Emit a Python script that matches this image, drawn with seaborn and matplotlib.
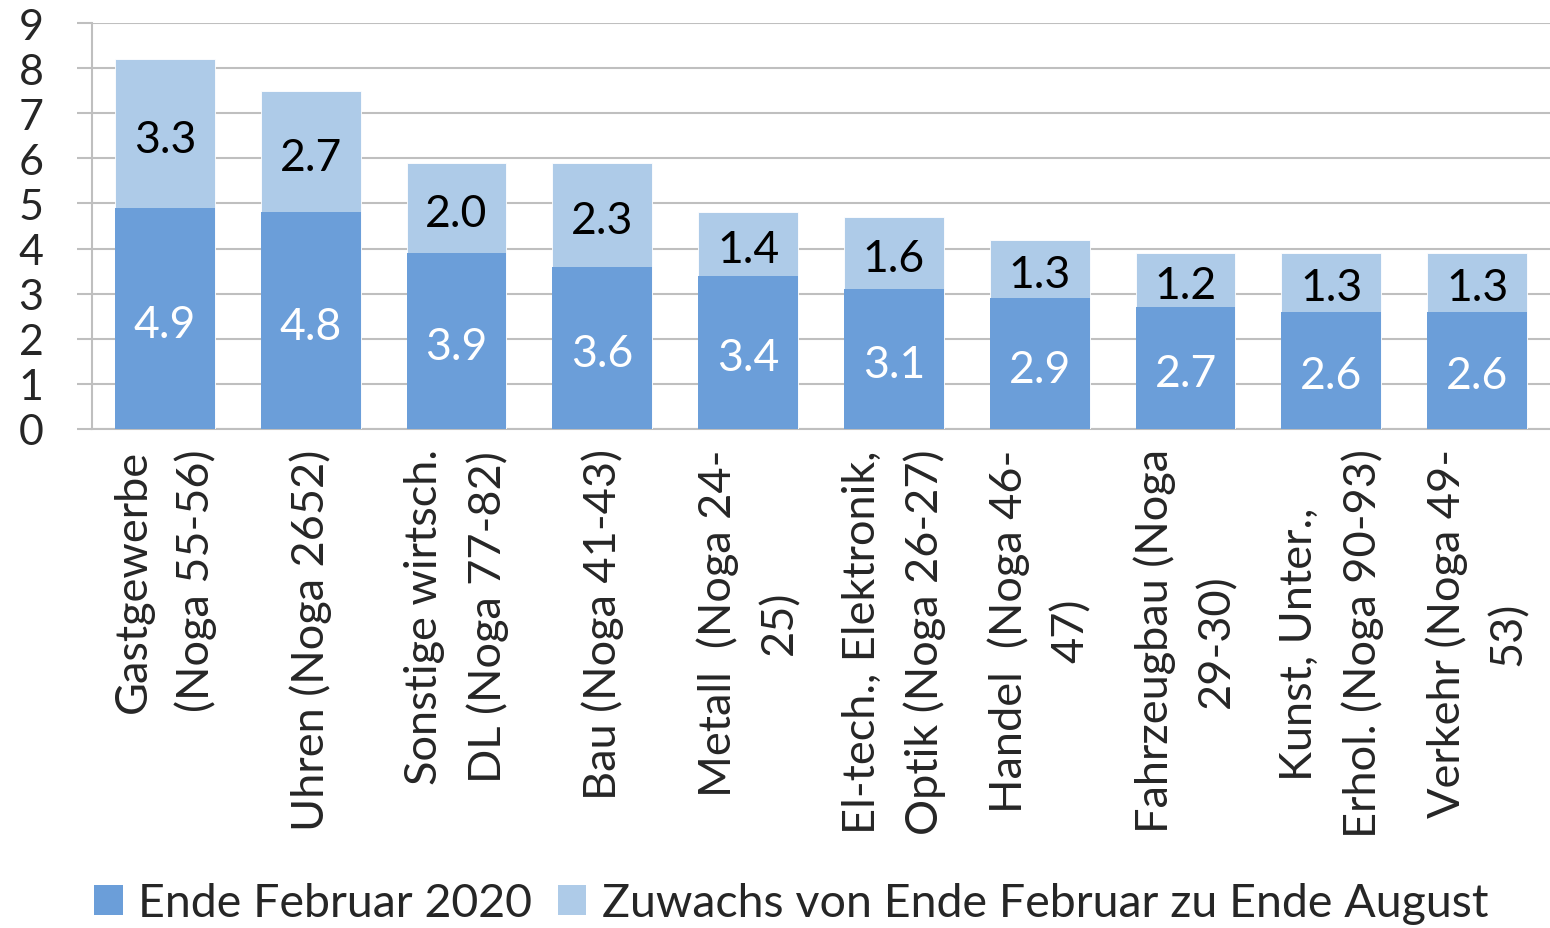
import matplotlib
matplotlib.use("Agg")
import matplotlib.pyplot as plt
import seaborn as sns
import pandas as pd
from matplotlib.patches import Patch

categories = [
    "Gastgewerbe\n(Noga 55-56)",
    "Uhren (Noga 2652)",
    "Sonstige wirtsch.\nDL (Noga 77-82)",
    "Bau (Noga 41-43)",
    "Metall  (Noga 24-\n25)",
    "El-tech., Elektronik,\nOptik (Noga 26-27)",
    "Handel  (Noga 46-\n47)",
    "Fahrzeugbau (Noga\n29-30)",
    "Kunst, Unter.,\nErhol. (Noga 90-93)",
    "Verkehr (Noga 49-\n53)",
]
ende_februar = [4.9, 4.8, 3.9, 3.6, 3.4, 3.1, 2.9, 2.7, 2.6, 2.6]
zuwachs = [3.3, 2.7, 2.0, 2.3, 1.4, 1.6, 1.3, 1.2, 1.3, 1.3]
yticks = [0, 1, 2, 3, 4, 5, 6, 7, 8, 9]
series_names = ["Ende Februar 2020", "Zuwachs von Ende Februar zu Ende August"]

DARK = "#6B9ED9"
LIGHT = "#AECBE8"
GRID = "#BFBFBF"

sns.set_style("white")
plt.rcParams["font.family"] = ["Lato", "DejaVu Sans"]

df = pd.DataFrame({
    "cat": categories,
    "base": ende_februar,
    "inc": zuwachs,
})
df["total"] = df["base"] + df["inc"]

fig = plt.figure(figsize=(15.5, 9.29), dpi=100)
ax = fig.add_axes([92 / 1550, 1 - 430 / 929, 1 - 92 / 1550, (430 - 24) / 929])

sns.barplot(data=df, x="cat", y="total", color=LIGHT, saturation=1, width=0.685,
            edgecolor="white", linewidth=0.6, ax=ax, zorder=3)
sns.barplot(data=df, x="cat", y="base", color=DARK, saturation=1, width=0.685,
            edgecolor="white", linewidth=0.0, ax=ax, zorder=4)

for i, (b, inc) in enumerate(zip(df["base"], df["inc"])):
    ax.annotate(f"{b:.1f}", (i, b / 2), xytext=(0, -4), textcoords="offset points",
                ha="center", va="center", color="white", fontsize=32, zorder=5)
    ax.annotate(f"{inc:.1f}", (i, b + inc / 2), xytext=(0, -4), textcoords="offset points",
                ha="center", va="center", color="black", fontsize=32, zorder=5)

ax.set_ylim(0, 9)
ax.set_xlim(-0.5, len(categories) - 0.5)
ax.set_yticks(yticks)
ax.set_yticklabels([str(t) for t in yticks], fontsize=31)
ax.yaxis.grid(True, color=GRID, linewidth=1.5, zorder=0)
ax.set_axisbelow(True)
ax.tick_params(axis="y", length=11, width=1.5, color=GRID, pad=24, direction="out", left=True)
ax.tick_params(axis="x", length=0, pad=14)
ax.set_xticks(range(len(categories)))
ax.set_xticklabels(categories, rotation=90, ha="center", va="top",
                   multialignment="center", fontsize=32.5, linespacing=1.6)
ax.set_xlabel("")
ax.set_ylabel("")
for side in ["top", "right"]:
    ax.spines[side].set_visible(False)
for side in ["left", "bottom"]:
    ax.spines[side].set_color(GRID)
    ax.spines[side].set_linewidth(1.5)

handles = [Patch(facecolor=DARK, edgecolor="none"), Patch(facecolor=LIGHT, edgecolor="none")]
fig.legend(handles, series_names, loc="center", bbox_to_anchor=(791 / 1550, 1 - 904 / 929),
           ncol=2, frameon=False, fontsize=33.5, handlelength=0.62, handleheight=0.62,
           handletextpad=0.33, columnspacing=0.55, borderaxespad=0)

fig.savefig("out.png", dpi=100)
